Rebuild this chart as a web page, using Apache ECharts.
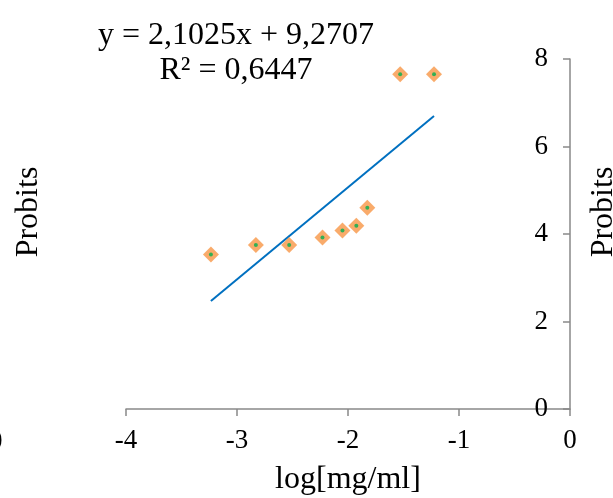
<!DOCTYPE html>
<html>
<head>
<meta charset="utf-8">
<script src="https://cdn.jsdelivr.net/npm/echarts@6/dist/echarts.min.js"></script>
<style>
  html, body { margin: 0; padding: 0; background: #fff; }
  #main { width: 613px; height: 498px; }
</style>
</head>
<body>
<div id="main"></div>
<script>
// log concentration vs probits
var logConc = [-3.235, -2.83, -2.53, -2.23, -2.05, -1.925, -1.826, -1.53, -1.225];
var probits = [3.53, 3.75, 3.75, 3.92, 4.08, 4.19, 4.60, 7.65, 7.65];
var xTicks = [-4, -3, -2, -1, 0];
var yTicks = [0, 2, 4, 6, 8];
// linear trend shown on the chart
var slope = 2.1025, intercept = 9.2707, r2 = '0,6447';

var pts = logConc.map(function (x, i) { return [x, probits[i]]; });
var xMin = Math.min.apply(null, logConc), xMax = Math.max.apply(null, logConc);
var trend = [[xMin, slope * xMin + intercept], [xMax, slope * xMax + intercept]];

var serif = '"Liberation Serif", "Times New Roman", serif';
var axisGray = '#898989';

var chart = echarts.init(document.getElementById('main'));
chart.setOption({
  animation: false,
  grid: { left: 126, right: 43, top: 59, bottom: 89, outerBoundsMode: 'none', containLabel: false },
  xAxis: {
    type: 'value', min: xTicks[0], max: xTicks[xTicks.length - 1], interval: 1,
    name: 'log[mg/ml]', nameLocation: 'middle', nameGap: 55,
    nameTextStyle: { fontFamily: serif, fontSize: 32, color: '#000' },
    axisLine: { onZero: false, lineStyle: { color: axisGray, width: 1.5 } },
    axisTick: { length: 7, lineStyle: { color: axisGray, width: 1.5 } },
    axisLabel: { fontFamily: serif, fontSize: 27, color: '#000', margin: 18 },
    splitLine: { show: false }
  },
  yAxis: {
    type: 'value', position: 'right', min: yTicks[0], max: yTicks[yTicks.length - 1], interval: 2,
    axisLine: { show: true, onZero: false, lineStyle: { color: axisGray, width: 1.5 } },
    axisTick: { show: true, inside: true, length: 7, lineStyle: { color: axisGray, width: 1.5 } },
    axisLabel: { inside: true, fontFamily: serif, fontSize: 27, color: '#000', margin: 22 },
    splitLine: { show: false }
  },
  graphic: [
    { type: 'text', x: 236, y: 36, style: { text: 'y = 2,1025x + 9,2707', font: '32px ' + serif, fill: '#000', textAlign: 'center', textVerticalAlign: 'middle' } },
    { type: 'text', x: 236, y: 71, style: { text: 'R² = ' + r2, font: '32px ' + serif, fill: '#000', textAlign: 'center', textVerticalAlign: 'middle' } },
    { type: 'text', x: 29, y: 212, rotation: Math.PI / 2, style: { text: 'Probits', font: '32px ' + serif, fill: '#000', textAlign: 'center', textVerticalAlign: 'middle' } },
    { type: 'text', x: 604, y: 212, rotation: Math.PI / 2, style: { text: 'Probits', font: '32px ' + serif, fill: '#000', textAlign: 'center', textVerticalAlign: 'middle' } },
    { type: 'text', x: -11, y: 442, style: { text: '0', font: '27px ' + serif, fill: '#000', textVerticalAlign: 'middle' } }
  ],
  series: [
    {
      type: 'line', data: trend, showSymbol: false, symbol: 'none',
      lineStyle: { color: '#0070C0', width: 2 }, z: 2
    },
    {
      type: 'scatter', data: pts, symbol: 'diamond', symbolSize: 16,
      itemStyle: { color: '#F79646' }, z: 3
    },
    {
      type: 'scatter', data: pts, symbol: 'circle', symbolSize: 4,
      itemStyle: { color: '#00B050' }, z: 4
    }
  ]
});
</script>
</body>
</html>
